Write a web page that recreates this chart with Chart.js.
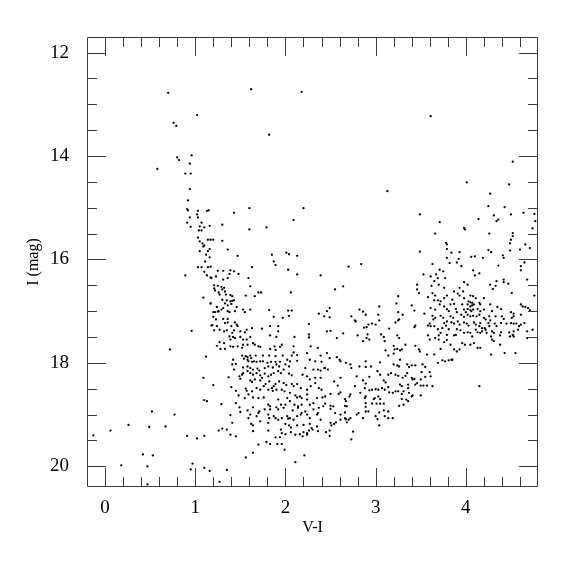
<!DOCTYPE html>
<html>
<head>
<meta charset="utf-8">
<script src="https://cdn.jsdelivr.net/npm/chart.js@4.4.1/dist/chart.umd.min.js"></script>
<style>
  html, body { margin: 0; padding: 0; background: #fff; }
  #wrap { width: 575px; height: 575px; }
</style>
</head>
<body>
<div id="wrap"><canvas id="c" width="575" height="575"></canvas></div>
<script>
// Each star: [V-I, I]
const blueSequence = [
  [0.70,12.78],[1.02,13.21],[0.76,13.36],[0.79,13.42],[0.96,13.99],[0.80,14.03],[0.82,14.08],[0.94,14.15],[0.58,14.25],
  [0.89,14.34],[0.95,14.34],[0.94,14.64],[0.92,14.86],[0.91,15.03],[0.92,15.05],[1.03,15.06],[1.13,15.06],[1.15,15.05],
  [1.02,15.13],[0.94,15.19],[1.03,15.19],[1.07,15.29],[0.91,15.29],[0.95,15.37],[1.05,15.36],[1.10,15.38],[1.16,15.35],
  [1.04,15.44],[1.07,15.44],[1.03,15.58],[1.05,15.65],[1.14,15.62],[1.17,15.62],[1.08,15.69],[1.10,15.73],[1.09,15.75],
  [1.16,15.80],[1.14,15.84],[1.05,15.84],[1.12,15.91],[1.16,15.96],[1.11,16.04],
  [1.03,16.15],[1.07,16.15],[1.14,16.15],[1.17,16.14],[1.10,16.24],[1.13,16.31],[1.17,16.35],[0.89,16.31],[1.21,16.50],
  [1.21,16.56],[1.09,16.74],[1.17,16.85],[1.20,17.02],[1.19,17.27],[1.21,17.37],[0.96,17.38],[0.72,17.74],[1.12,17.88],
  [1.09,18.29],[1.20,18.43],[1.10,18.72],[1.13,18.74],[0.52,18.94],[0.77,19.00],[0.26,19.20],[0.49,19.24],[0.67,19.23],
  [0.06,19.31],[-0.13,19.40],[0.91,19.41],[1.02,19.46],[1.10,19.41],[0.42,19.77],[0.53,19.79],[0.18,19.98],[0.47,20.00],
  [0.97,19.95],[0.95,20.06],[1.10,20.03],[1.16,20.09],[0.47,20.35]
];

const giantBranchUpper = [
  [1.60,15.42],[1.20,15.62],[1.30,15.64],[1.36,15.81],[1.47,15.93],[1.85,15.91],[2.01,15.87],[2.04,15.90],[2.13,15.93],
  [1.87,16.04],[1.89,16.11],[1.63,16.15],[2.03,16.20],[2.13,16.29],[2.39,16.31],[1.25,16.22],[1.31,16.22],[1.39,16.21],
  [1.43,16.23],[1.38,16.28],[1.48,16.28],[1.23,16.33],[1.18,16.36],[1.59,16.36],[1.31,16.39],[1.36,16.36],[1.25,16.51],
  [1.29,16.53],[1.32,16.55],[1.30,16.58],[1.22,16.60],[1.26,16.64],[1.27,16.68],[1.33,16.62],[1.34,16.68],[1.39,16.69],
  [1.41,16.71],[1.61,16.52],[1.56,16.70],[1.66,16.71],[1.70,16.64],[1.73,16.64],[2.06,16.64],[1.30,16.78],[1.35,16.79],
  [1.39,16.81],[1.41,16.80],[1.43,16.79],[1.33,16.85],[1.36,16.89],[1.17,16.85],[1.24,16.92],[1.25,17.01],[1.29,16.97],
  [1.31,16.94],[1.40,16.86],[1.46,16.92],[1.44,17.00],[1.22,17.02],[1.26,17.00],[1.36,17.00],[1.38,17.02],[1.53,16.97],
  [1.55,17.02],[1.61,16.97],[1.82,16.98],[2.03,16.99],[2.07,16.99],[1.87,17.11],[1.97,17.13],[2.04,17.09],[2.37,17.05],
  [2.43,17.10],[1.20,17.11],[1.23,17.16],[1.31,17.15],[1.36,17.15],[1.33,17.23],[1.36,17.22],[1.44,17.22],[1.46,17.26],
  [1.18,17.28],[1.24,17.29],[1.27,17.36],[1.32,17.39],[1.35,17.37],[1.40,17.29],[1.43,17.37],[1.41,17.42],[1.47,17.29],
  [1.50,17.39],[1.55,17.41],[1.57,17.36],[1.63,17.33],[1.74,17.34],[1.83,17.29],[1.92,17.29],[1.92,17.39],[1.83,17.47],
  [1.90,17.50],[2.10,17.50],[2.26,17.25],[2.26,17.45],[2.26,17.51],[1.24,17.67],[1.27,17.60],[1.32,17.62],[1.38,17.49],
  [1.39,17.55],[1.42,17.50],[1.44,17.52],[1.50,17.50],[1.53,17.55],[1.53,17.65],[1.57,17.55],[1.58,17.65],[1.61,17.50],
  [1.64,17.62],[1.66,17.65],[1.70,17.68],[1.72,17.69],[1.39,17.68],[1.42,17.69],[1.47,17.68],[1.52,17.71],[1.83,17.73],
  [1.88,17.68],[1.94,17.69],[1.96,17.65],[2.09,17.68],[2.28,17.68],[2.36,17.71],[1.89,17.75],[2.09,17.80],[2.24,17.81],
  [1.33,17.73],[1.28,17.73]
];

const giantBranchLower = [
  [1.52,17.86],[1.56,17.87],[1.58,17.89],[1.61,17.86],[1.62,17.91],[1.67,17.86],[1.75,17.86],[1.82,17.86],[1.89,17.87],
  [1.97,17.86],[2.07,17.86],[2.13,17.85],[2.39,17.86],[1.54,17.92],[1.58,17.94],[1.59,17.97],[1.63,17.98],[1.65,17.97],
  [1.68,17.98],[1.72,17.97],[1.75,17.97],[1.80,18.00],[1.84,17.98],[1.89,17.98],[1.94,17.98],[2.02,17.94],[2.05,17.97],
  [2.13,17.96],[2.27,17.94],[2.33,17.97],[2.40,17.98],[1.42,17.94],[1.41,18.03],[1.45,18.02],[1.43,18.13],[1.53,18.09],
  [1.58,18.07],[1.61,18.10],[1.64,18.13],[1.69,18.11],[1.71,18.15],[1.77,18.10],[1.81,18.07],[1.86,18.09],[1.90,18.03],
  [1.93,18.07],[1.98,18.13],[2.00,18.03],[2.04,18.07],[2.22,18.10],[2.31,18.13],[2.36,18.13],[2.39,18.15],[2.43,18.10],
  [1.49,18.26],[1.52,18.23],[1.53,18.20],[1.58,18.16],[1.61,18.20],[1.64,18.23],[1.68,18.20],[1.72,18.24],[1.74,18.29],
  [1.77,18.21],[1.81,18.26],[1.84,18.23],[1.87,18.20],[1.92,18.16],[1.95,18.20],[2.04,18.21],[2.07,18.24],[2.19,18.23],
  [2.24,18.26],[2.27,18.32],[2.33,18.29],[2.39,18.29],[1.37,18.28],[1.50,18.31],[1.61,18.34],[1.63,18.37],[1.66,18.32],
  [1.72,18.34],[1.78,18.41],[1.82,18.36],[1.87,18.45],[1.89,18.41],[1.93,18.36],[1.98,18.39],[2.01,18.43],[2.07,18.41],
  [2.09,18.45],[2.13,18.41],[2.17,18.49],[2.24,18.52],[2.28,18.45],[2.33,18.39],[2.37,18.49],[2.40,18.52],[1.40,18.47],
  [1.45,18.54],[1.56,18.50],[1.57,18.54],[1.63,18.55],[1.68,18.49],[1.72,18.52],[1.76,18.45],[1.81,18.52],[1.85,18.49],
  [1.86,18.54],[1.90,18.52],[1.96,18.52],[1.99,18.55],[2.05,18.58],[2.11,18.63],[2.13,18.67],[2.16,18.65],[2.18,18.68],
  [2.24,18.61],[2.35,18.68],[2.41,18.67],[1.48,18.63],[1.55,18.68],[1.59,18.61],[1.64,18.67],[1.70,18.68],[1.76,18.67],
  [1.81,18.81],[1.83,18.84],[1.92,18.71],[1.95,18.81],[1.98,18.87],[2.00,18.81],[2.02,18.68],[2.05,18.74],[2.10,18.81],
  [2.14,18.84],[2.18,18.81],[2.24,18.71],[2.27,18.81],[2.31,18.78],[2.37,18.87],[2.42,18.84],[1.29,18.80],[1.45,18.78],
  [1.49,18.86],[1.64,18.86],[1.71,18.94],[1.77,18.90],[1.83,18.90],[1.90,18.86],[1.92,18.90],[2.08,18.92],[2.14,18.87],
  [2.17,19.00],[2.22,18.94],[2.31,18.90],[2.36,18.97],[1.39,19.01],[1.41,19.16],[1.50,18.95],[1.58,18.92],[1.61,19.00],
  [1.68,19.03],[1.70,18.97],[1.81,19.00],[1.82,19.07],[1.87,19.03],[1.89,19.07],[2.02,19.03],[2.03,19.08],[2.05,19.07],
  [2.09,19.10],[2.13,19.03],[2.18,18.97],[2.24,19.00],[2.27,19.07],[2.35,19.00],[2.39,19.10],[1.59,19.07],[1.62,19.18],
  [1.64,19.21],[1.72,19.13],[1.81,19.16],[1.92,19.10],[1.96,19.07],[2.00,19.18],[2.04,19.21],[2.06,19.25],[2.13,19.21],
  [2.20,19.20],[2.27,19.18],[2.29,19.26],[2.35,19.23],[1.26,19.31],[1.30,19.27],[1.35,19.29],[1.39,19.39],[1.45,19.42],
  [1.64,19.32],[1.81,19.31],[1.95,19.29],[1.96,19.36],[2.00,19.38],[2.06,19.34],[2.11,19.39],[2.16,19.38],[2.20,19.34],
  [2.24,19.36],[2.26,19.31],[2.30,19.29],[2.36,19.32],[1.89,19.44],[1.94,19.44],[2.19,19.42],[2.24,19.39],[1.79,19.53],
  [1.70,19.58],[1.83,19.57],[1.91,19.57],[1.96,19.57],[1.99,19.68],[1.64,19.74],[1.56,19.83],[2.21,19.79],[2.11,19.92],
  [1.35,20.07],[1.27,20.30]
];

const redSequence = [
  [3.49,15.85],[2.70,16.14],[2.84,16.09],[3.53,16.29],[3.46,16.49],[2.64,16.52],[2.55,16.58],[3.46,16.58],[3.48,16.65],
  [3.58,16.73],[3.25,16.71],[3.04,16.91],[3.23,16.85],[3.40,16.89],[3.43,16.99],[3.54,17.05],[2.46,17.00],[2.49,16.94],
  [2.49,17.12],[2.82,16.97],[2.86,17.01],[2.89,17.07],[2.73,17.10],[2.77,17.18],[2.78,17.20],[3.03,17.07],[3.04,17.18],
  [3.25,17.02],[3.30,17.07],[3.22,17.22],[3.25,17.18],[3.26,17.16],[2.92,17.26],[2.96,17.24],[3.00,17.26],[2.87,17.32],
  [2.90,17.31],[2.46,17.39],[2.50,17.38],[2.64,17.43],[2.57,17.52],[2.80,17.47],[2.91,17.45],[2.90,17.52],[2.93,17.55],
  [2.86,17.58],[3.06,17.45],[3.09,17.50],[3.10,17.58],[3.15,17.34],[3.24,17.47],[3.26,17.52],[3.43,17.31],[3.44,17.28],
  [3.58,17.28],[3.60,17.24],[3.58,17.47],[3.60,17.55],[3.20,17.67],[3.33,17.65],[3.44,17.67],[3.29,17.74],[3.27,17.76],
  [3.11,17.76],[3.14,17.86],[3.20,17.82],[3.21,17.74],[3.24,17.73],[3.48,17.74],[3.49,17.78],[3.57,17.84],[2.46,17.81],
  [2.49,17.91],[2.57,17.89],[2.60,17.94],[2.61,17.97],[2.67,18.00],[2.72,18.03],[2.73,18.10],[2.44,18.10],[2.47,18.13],
  [2.82,18.07],[2.89,18.08],[2.95,18.07],[2.89,17.97],[3.02,18.16],[3.05,17.99],[3.20,18.03],[3.24,18.05],[3.26,18.07],
  [3.27,17.94],[3.35,18.03],[3.37,18.08],[3.40,18.05],[3.44,18.05],[3.52,18.03],[3.55,18.08],[3.60,18.18],[2.79,18.26],
  [2.93,18.27],[2.61,18.29],[2.54,18.36],[2.86,18.34],[3.05,18.23],[3.09,18.34],[3.11,18.38],[3.14,18.23],[3.17,18.20],
  [3.22,18.23],[3.25,18.25],[3.30,18.29],[3.33,18.25],[3.35,18.20],[3.40,18.29],[3.41,18.32],[3.43,18.31],[3.50,18.32],
  [3.51,18.18],[3.55,18.27],[3.44,18.42],[3.46,18.39],[3.36,18.42],[3.27,18.42],[3.29,18.45],[3.50,18.44],[3.53,18.44],
  [3.57,18.44],[3.63,18.45],[3.61,18.26],[2.58,18.44],[2.77,18.45],[2.89,18.40],[2.88,18.49],[2.93,18.53],[2.96,18.52],
  [3.00,18.51],[3.03,18.52],[3.07,18.49],[3.10,18.52],[3.14,18.47],[3.15,18.57],[3.19,18.58],[3.22,18.55],[3.25,18.55],
  [3.29,18.60],[3.31,18.55],[3.36,18.49],[3.37,18.58],[3.40,18.65],[3.41,18.63],[3.50,18.63],[2.44,18.65],[2.50,18.60],
  [2.59,18.60],[2.61,18.57],[2.71,18.65],[2.72,18.61],[2.83,18.58],[2.66,18.70],[2.67,18.74],[2.88,18.68],[2.89,18.65],
  [2.98,18.70],[2.99,18.68],[3.03,18.65],[3.05,18.70],[3.29,18.70],[3.34,18.71],[3.36,18.74],[2.44,18.79],[2.50,18.83],
  [2.53,18.84],[2.66,18.83],[2.68,18.84],[2.89,18.78],[2.89,18.85],[2.96,18.79],[3.01,18.79],[3.05,18.79],[3.09,18.79],
  [3.26,18.83],[3.31,18.81],[2.50,18.89],[2.55,18.97],[2.61,19.00],[2.66,18.96],[2.66,19.07],[2.67,19.09],[2.70,19.10],
  [2.72,19.07],[2.68,19.15],[2.61,19.10],[2.79,19.00],[2.81,18.97],[2.86,19.07],[2.89,18.94],[2.92,18.94],[3.00,19.03],
  [3.02,19.09],[3.04,18.96],[3.09,18.92],[3.10,19.03],[3.14,18.94],[3.14,19.07],[3.19,19.07],[2.56,19.15],[2.54,19.18],
  [2.50,19.16],[2.51,19.21],[3.04,19.21],[2.45,19.34],[2.49,19.31],[2.49,19.41],[2.75,19.33],[2.73,19.48]
];

const redClump = [
  [4.01,14.51],[4.48,14.55],[4.27,14.73],[4.25,14.97],[4.43,14.99],[4.64,15.10],[4.50,15.13],[4.76,15.12],[4.31,15.15],
  [4.14,15.22],[4.36,15.23],[4.34,15.26],[3.71,15.28],[4.77,15.26],[3.98,15.39],[3.99,15.42],[4.74,15.40],[3.66,15.50],
  [4.26,15.50],[4.52,15.49],[4.52,15.55],[4.50,15.62],[4.49,15.69],[3.78,15.68],[3.79,15.71],[4.66,15.71],[4.71,15.78],
  [3.79,15.80],[4.60,15.81],[4.25,15.82],[4.28,15.86],[4.49,15.83],[3.84,15.87],[3.93,15.86],[4.41,15.92],[4.42,15.97],
  [4.06,15.95],[4.10,15.94],[3.79,15.97],[4.19,15.97],[3.92,15.99],[3.90,16.06],[3.82,16.07],[4.65,16.06],[3.63,16.09],
  [3.95,16.13],[4.36,16.12],[4.61,16.13],[4.61,16.21],[3.71,16.20],[3.75,16.23],[4.08,16.21],[4.10,16.31],[4.15,16.27],
  [3.61,16.33],[3.67,16.29],[3.69,16.36],[3.65,16.42],[3.77,16.36],[4.68,16.39],[4.42,16.39],[4.42,16.44],[4.34,16.42],
  [4.33,16.51],[3.98,16.44],[4.47,16.47],[4.02,16.49],[4.27,16.49],[3.62,16.51],[3.70,16.49],[3.93,16.55],[3.97,16.62],
  [3.76,16.55],[3.87,16.62],[4.30,16.57],[4.51,16.65],[4.76,16.70],[3.63,16.65],[3.66,16.70],[3.79,16.70],[3.76,16.75],
  [3.91,16.66],[3.93,16.70],[4.05,16.70],[4.08,16.71],[3.98,16.75],[4.11,16.75],[4.20,16.75],[3.65,16.79],[3.69,16.79],
  [3.72,16.81],[3.85,16.78],[4.03,16.81],[4.05,16.83],[4.07,16.84],[3.71,16.87],[3.76,16.91],[3.83,16.87],[3.87,16.86],
  [3.96,16.87],[4.02,16.87],[4.05,16.91],[4.07,16.89],[4.09,16.87],[4.15,16.84],[4.16,16.87],[4.27,16.87],[4.35,16.92],
  [4.61,16.87],[4.63,16.91],[4.66,16.92],[4.69,16.94],[4.71,16.98],[3.61,16.94],[3.66,16.97],[3.79,16.96],[3.81,17.00],
  [3.89,16.96],[3.90,17.02],[3.98,16.97],[4.00,17.02],[4.02,16.96],[4.05,16.98],[4.06,17.00],[4.08,16.97],[4.13,16.96],
  [4.16,17.00],[4.20,16.97],[4.29,17.00],[4.39,16.96],[4.50,17.02],[4.53,17.05],[3.63,17.09],[3.66,17.13],[3.72,17.09],
  [3.75,17.13],[3.83,17.10],[3.86,17.13],[3.95,17.07],[3.98,17.11],[4.02,17.07],[4.05,17.10],[4.08,17.09],[4.12,17.10],
  [4.15,17.07],[4.20,17.13],[4.22,17.16],[4.26,17.10],[4.27,17.18],[4.33,17.10],[4.40,17.10],[4.42,17.15],[4.51,17.13],
  [4.53,17.10],[4.61,17.07],[4.65,17.23],[3.64,17.16],[3.76,17.23],[3.79,17.20],[3.84,17.22],[3.87,17.24],[3.91,17.20],
  [3.93,17.26],[3.98,17.22],[4.01,17.24],[4.03,17.28],[4.09,17.22],[4.11,17.26],[4.15,17.29],[4.16,17.23],[4.18,17.33],
  [4.21,17.33],[4.25,17.23],[4.26,17.29],[4.32,17.24],[4.34,17.29],[4.39,17.23],[4.45,17.24],[4.50,17.23],[4.53,17.24],
  [4.56,17.24],[4.59,17.29],[4.61,17.26],[3.61,17.29],[3.65,17.29],[3.69,17.35],[3.74,17.33],[3.78,17.28],[3.81,17.35],
  [3.90,17.35],[3.94,17.37],[3.98,17.42],[4.02,17.41],[4.05,17.42],[4.11,17.36],[4.13,17.41],[4.16,17.42],[4.18,17.39],
  [4.22,17.36],[4.23,17.42],[4.29,17.39],[4.31,17.42],[4.39,17.41],[4.48,17.41],[4.53,17.39],[4.58,17.36],[4.68,17.39],
  [4.74,17.36],[3.72,17.42],[3.70,17.47],[3.79,17.46],[3.87,17.47],[3.89,17.46],[4.07,17.49],[4.28,17.49],[4.29,17.55],
  [4.38,17.47],[4.49,17.49],[4.52,17.46],[4.53,17.49],[3.66,17.52],[3.70,17.55],[3.76,17.60],[3.79,17.56],[3.96,17.62],
  [3.99,17.65],[4.05,17.65],[4.09,17.62],[4.13,17.71],[4.16,17.71],[4.31,17.58],[4.38,17.65],[4.43,17.81],[4.55,17.81],
  [4.28,17.84],[3.72,17.73],[3.83,17.65],[3.87,17.74],[3.90,17.78],[3.93,17.74],[3.65,17.84],[3.69,18.00],[3.74,17.95],
  [3.77,17.97],[3.81,17.95],[3.84,17.94],[3.85,17.94],[4.68,17.52],[4.15,18.45]
];

const brightField = [
  [1.62,12.71],[2.18,12.76],[3.61,13.23],[1.82,13.59],[4.52,14.11],[3.13,14.68],[1.43,15.10],[1.60,15.01],[2.20,15.01],
  [1.30,15.33],[1.79,15.38],[2.09,15.24],[3.49,15.13]
];

const xLabelTicks = [0, 1, 2, 3, 4];
const yLabelTicks = [12, 14, 16, 18, 20];
const xRange = [-0.2, 4.8];
const yRange = [11.7, 20.4];
const xTitle = 'V-I';
const yTitle = 'I (mag)';

const allStars = [].concat(blueSequence, giantBranchUpper, giantBranchLower, redSequence, redClump, brightField);

const FRAME = '#3a3a3a';

const frameTicks = {
  id: 'frameTicks',
  afterDatasetsDraw(chart) {
    const { ctx, chartArea: a, scales: { x, y } } = chart;
    const L = Math.round(a.left) + 0.5, R = Math.round(a.right) - 0.5;
    const T = Math.round(a.top) + 0.5, B = Math.round(a.bottom) - 0.5;
    ctx.save();
    ctx.strokeStyle = FRAME;
    ctx.lineWidth = 1;
    ctx.beginPath();
    ctx.rect(L, T, R - L, B - T);
    ctx.stroke();
    ctx.beginPath();
    // x ticks every 0.2, major each integer
    for (let k = -1; k <= 24; k++) {
      const v = k / 5;
      if (v <= xRange[0] || v >= xRange[1]) continue;
      const px = Math.round(x.getPixelForValue(v)) + 0.5;
      const len = (k % 5 === 0) ? 18.5 : 9.5;
      ctx.moveTo(px, B); ctx.lineTo(px, B - len);
      ctx.moveTo(px, T); ctx.lineTo(px, T + len);
    }
    // y ticks every 0.5, major each 2
    for (let k = 24; k <= 40; k++) {
      const v = k / 2;
      if (v <= yRange[0] || v >= yRange[1]) continue;
      const py = Math.round(y.getPixelForValue(v)) + 0.5;
      const len = (k % 4 === 0) ? 18.5 : 9.5;
      ctx.moveTo(L, py); ctx.lineTo(L + len, py);
      ctx.moveTo(R, py); ctx.lineTo(R - len, py);
    }
    ctx.stroke();
    ctx.restore();
  }
};

new Chart(document.getElementById('c'), {
  type: 'scatter',
  data: {
    datasets: [{
      data: allStars.map(([vi, mag]) => ({ x: vi, y: mag })),
      backgroundColor: '#000',
      borderWidth: 0,
      pointRadius: 1.15,
      pointHoverRadius: 1.15
    }]
  },
  options: {
    responsive: false,
    animation: false,
    devicePixelRatio: 1,
    layout: { padding: { top: 37, right: 37, bottom: 0, left: 0 } },
    plugins: { legend: { display: false }, tooltip: { enabled: false } },
    events: [],
    scales: {
      x: {
        type: 'linear',
        min: xRange[0], max: xRange[1],
        afterBuildTicks: s => { s.ticks = xLabelTicks.map(v => ({ value: v })); },
        afterFit: s => { s.height = 88; },
        grid: { display: false },
        border: { display: false },
        ticks: {
          autoSkip: false, maxRotation: 0, padding: 2, color: '#000',
          font: { family: '"Liberation Serif", serif', size: 19 },
          callback: v => String(v)
        },
        title: {
          display: true, text: xTitle, color: '#000',
          font: { family: '"Liberation Serif", serif', size: 16 },
          padding: { top: 0, bottom: 38 }
        }
      },
      y: {
        type: 'linear',
        reverse: true,
        min: yRange[0], max: yRange[1],
        afterBuildTicks: s => { s.ticks = yLabelTicks.map(v => ({ value: v })); },
        afterFit: s => { s.width = 87; },
        grid: { display: false },
        border: { display: false },
        ticks: {
          autoSkip: false, padding: 10, color: '#000',
          font: { family: '"Liberation Serif", serif', size: 19 },
          callback: v => String(v)
        },
        title: {
          display: true, text: yTitle, color: '#000',
          font: { family: '"Liberation Serif", serif', size: 16 },
          padding: { top: 24, bottom: 0 }
        }
      }
    }
  },
  plugins: [frameTicks]
});
</script>
</body>
</html>
